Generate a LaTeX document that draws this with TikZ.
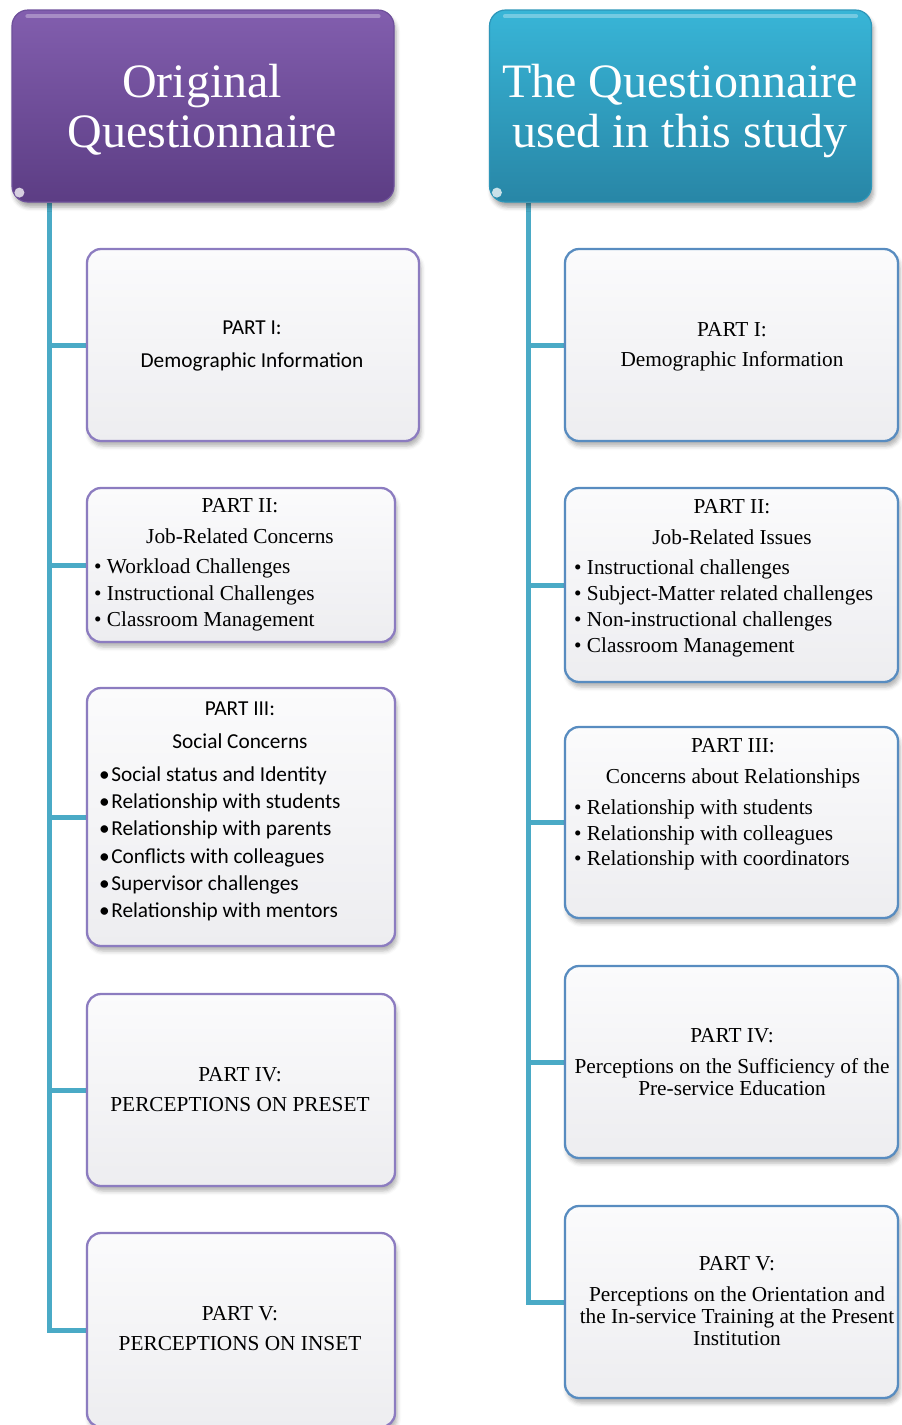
\documentclass[tikz,border=0pt]{standalone}
\usepackage{fontspec}
\setmainfont{Liberation Serif}
\newfontfamily\calfont{Carlito}
\usetikzlibrary{calc,backgrounds,shadows.blur}

\definecolor{hdrPurpleTop}{RGB}{130,94,174}
\definecolor{hdrPurpleBot}{RGB}{92,61,132}
\definecolor{hdrPurpleEdge}{RGB}{110,80,155}
\definecolor{hdrTealTop}{RGB}{56,181,215}
\definecolor{hdrTealBot}{RGB}{40,134,166}
\definecolor{hdrTealEdge}{RGB}{45,150,185}
\definecolor{spine}{RGB}{74,170,198}
\definecolor{lavEdge}{RGB}{140,124,192}
\definecolor{blueEdge}{RGB}{88,140,192}
\definecolor{boxTop}{RGB}{251,251,252}
\definecolor{boxBot}{RGB}{237,237,240}

\tikzset{
  card/.style={line width=2.3pt, rounded corners=14pt, top color=boxTop,
    bottom color=boxBot, inner sep=0pt,
    blur shadow={shadow xshift=2pt, shadow yshift=-5pt, shadow blur radius=4pt,
      shadow opacity=30}},
  lcard/.style={card, draw=lavEdge},
  rcard/.style={card, draw=blueEdge},
  header/.style={line width=1.2pt, rounded corners=16pt, inner sep=0pt,
    minimum width=382pt, minimum height=192pt,
    blur shadow={shadow xshift=2pt, shadow yshift=-5pt, shadow blur radius=4pt,
      shadow opacity=35}},
  conn/.style={draw=spine, line width=5pt},
  hdrtxt/.style={anchor=base, inner sep=0pt, text=white,
    font=\fontsize{48}{48}\selectfont},
  serif/.style={anchor=base, inner sep=0pt, font=\fontsize{21.3}{21.3}\selectfont},
  sans/.style={anchor=base, inner sep=0pt, font=\calfont\fontsize{21.3}{21.3}\selectfont},
  serifitem/.style={serif, anchor=base west},
  sansitem/.style={sans, anchor=base west},
}

\begin{document}
\begin{tikzpicture}[x=1pt, y=-1pt]
\useasboundingbox (0,0) rectangle (902,1425);

% column headers
\node[header, draw=hdrPurpleEdge, top color=hdrPurpleTop, bottom color=hdrPurpleBot]
  (hL) at (203,106) {};
\node[header, draw=hdrTealEdge, top color=hdrTealTop, bottom color=hdrTealBot]
  (hR) at (680.5,106) {};
\foreach \h in {hL,hR}{
  \draw[white, opacity=0.3, line width=4pt, line cap=round]
    ($(\h.north west)+(16,7)$) -- ($(\h.north east)+(-16,7)$);
  \fill[white, opacity=0.75] ($(\h.south west)+(8,-10)$) circle (5);
}
\node[hdrtxt] (hLa) at (202,97) {Original};
\node[hdrtxt] (hLb) at (202,147) {Questionnaire};
\node[hdrtxt] (hRa) at (680,97) {The Questionnaire};
\node[hdrtxt] (hRb) at (680,147) {used in this study};

% left column cards
\node[lcard, minimum width=332pt, minimum height=192pt] (l1) at (253,345) {};
\node[lcard, minimum width=308pt, minimum height=154pt] (l2) at (241,565) {};
\node[lcard, minimum width=308pt, minimum height=258pt] (l3) at (241,817) {};
\node[lcard, minimum width=308pt, minimum height=192pt] (l4) at (241,1090) {};
\node[lcard, minimum width=308pt, minimum height=194pt] (l5) at (241,1330) {};

% right column cards
\node[rcard, minimum width=333pt, minimum height=192pt] (r1) at (731.5,345) {};
\node[rcard, minimum width=333pt, minimum height=194pt] (r2) at (731.5,585) {};
\node[rcard, minimum width=333pt, minimum height=191pt] (r3) at (731.5,822.5) {};
\node[rcard, minimum width=333pt, minimum height=192pt] (r4) at (731.5,1062) {};
\node[rcard, minimum width=333pt, minimum height=192pt] (r5) at (731.5,1302) {};

% connectors: one spine per column with a branch to every card
\coordinate (sL) at (49.5,0);
\coordinate (sR) at (528,0);
\begin{scope}[on background layer]
  \draw[conn, line join=miter] (hL.south -| sL) -- (sL |- l5.west) -- (l5.west);
  \foreach \n in {l1,l2,l3,l4} \draw[conn] (sL |- \n.west) -- (\n.west);
  \draw[conn, line join=miter] (hR.south -| sR) -- (sR |- r5.west) -- (r5.west);
  \foreach \n in {r1,r2,r3,r4} \draw[conn] (sR |- \n.west) -- (\n.west);
\end{scope}

% left texts
\node[sans] (l1a) at (252,334) {PART I:};
\node[sans] (l1b) at (252,367) {Demographic Information};

\node[serif] (l2a) at (240,512) {PART II:};
\node[serif] (l2b) at (240,543) {Job-Related Concerns};
\foreach \t/\y [count=\i] in {Workload Challenges/573,
    Instructional Challenges/600, Classroom Management/626}
  \node[serifitem] (l2i\i) at (94,\y) {• \t};

\node[sans] (l3a) at (240,715) {PART III:};
\node[sans] (l3b) at (240,748) {Social Concerns};
\foreach \t/\y [count=\i] in {Social status and Identity/781,
    Relationship with students/808, Relationship with parents/835,
    Conflicts with colleagues/863, Supervisor challenges/890,
    Relationship with mentors/917}
  \node[sansitem] (l3i\i) at (99,\y) {•\kern1.5pt \t};

\node[serif] (l4a) at (240,1081) {PART IV:};
\node[serif] (l4b) at (240,1111) {PERCEPTIONS ON PRESET};

\node[serif] (l5a) at (240,1320) {PART V:};
\node[serif] (l5b) at (240,1350) {PERCEPTIONS ON INSET};

% right texts
\node[serif] (r1a) at (732,336) {PART I:};
\node[serif] (r1b) at (732,366) {Demographic Information};

\node[serif] (r2a) at (732,513) {PART II:};
\node[serif] (r2b) at (732,544) {Job-Related Issues};
\foreach \t/\y [count=\i] in {Instructional challenges/574,
    Subject-Matter related challenges/600, Non-instructional challenges/626,
    Classroom Management/652}
  \node[serifitem] (r2i\i) at (574,\y) {• \t};

\node[serif] (r3a) at (733,752) {PART III:};
\node[serif] (r3b) at (733,783) {Concerns about Relationships};
\foreach \t/\y [count=\i] in {Relationship with students/814,
    Relationship with colleagues/840, Relationship with coordinators/865}
  \node[serifitem] (r3i\i) at (574,\y) {• \t};

\node[serif] (r4a) at (732,1042) {PART IV:};
\node[serif] (r4b) at (732,1073) {Perceptions on the Sufficiency of the};
\node[serif] (r4c) at (732,1095) {Pre-service Education};

\node[serif] (r5a) at (737,1270) {PART V:};
\node[serif] (r5b) at (737,1301) {Perceptions on the Orientation and};
\node[serif] (r5c) at (737,1323) {the In-service Training at the Present};
\node[serif] (r5d) at (737,1345) {Institution};
\end{tikzpicture}
\end{document}
